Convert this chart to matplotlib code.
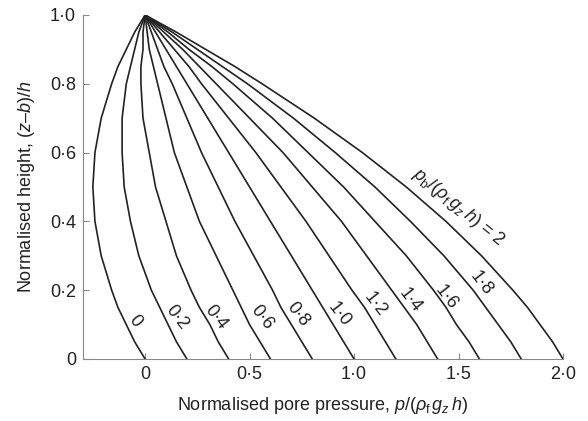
import matplotlib
matplotlib.use('Agg')
import matplotlib.pyplot as plt
from matplotlib.ticker import FuncFormatter

plt.rcParams['font.family'] = ['Liberation Sans', 'DejaVu Sans']
plt.rcParams['mathtext.fontset'] = 'custom'
plt.rcParams['mathtext.rm'] = 'Liberation Sans'
plt.rcParams['mathtext.it'] = 'Liberation Sans:italic'

# normalised height levels where the curves were read
height = [0, 0.05, 0.1, 0.15, 0.2, 0.3, 0.4, 0.5, 0.6, 0.7, 0.8, 0.85, 0.9, 0.95, 1.0]

# normalised pore pressure for each base pressure pb
p_00 = [0.00, -0.05, -0.09, -0.13, -0.16, -0.21, -0.24, -0.25, -0.24, -0.21, -0.16, -0.13, -0.09, -0.05, 0]
p_02 = [0.20, 0.15, 0.11, 0.07, 0.03, -0.03, -0.07, -0.10, -0.11, -0.11, -0.09, -0.07, -0.05, -0.03, 0]
p_04 = [0.40, 0.35, 0.31, 0.26, 0.22, 0.15, 0.10, 0.05, 0.02, -0.01, -0.02, -0.02, -0.01, -0.01, 0]
p_06 = [0.60, 0.55, 0.50, 0.46, 0.42, 0.34, 0.26, 0.20, 0.14, 0.10, 0.06, 0.04, 0.02, 0.01, 0]
p_08 = [0.80, 0.75, 0.70, 0.65, 0.61, 0.52, 0.43, 0.35, 0.27, 0.20, 0.13, 0.09, 0.06, 0.03, 0]
p_10 = [1.00, 0.95, 0.90, 0.85, 0.80, 0.70, 0.60, 0.50, 0.40, 0.30, 0.20, 0.15, 0.10, 0.05, 0]
p_12 = [1.20, 1.15, 1.10, 1.05, 0.99, 0.88, 0.77, 0.65, 0.53, 0.40, 0.27, 0.21, 0.14, 0.07, 0]
p_14 = [1.40, 1.35, 1.30, 1.24, 1.18, 1.06, 0.94, 0.80, 0.66, 0.50, 0.34, 0.26, 0.18, 0.09, 0]
p_16 = [1.60, 1.55, 1.49, 1.44, 1.38, 1.25, 1.10, 0.95, 0.78, 0.61, 0.42, 0.32, 0.21, 0.11, 0]
p_18 = [1.80, 1.75, 1.69, 1.63, 1.57, 1.43, 1.27, 1.10, 0.91, 0.71, 0.49, 0.37, 0.25, 0.13, 0]
p_20 = [2.00, 1.95, 1.89, 1.83, 1.76, 1.61, 1.44, 1.25, 1.04, 0.81, 0.56, 0.43, 0.29, 0.15, 0]

curves = [p_00, p_02, p_04, p_06, p_08, p_10, p_12, p_14, p_16, p_18, p_20]
curve_labels = ['0', '0·2', '0·4', '0·6', '0·8', '1·0', '1·2', '1·4', '1·6', '1·8']
label_x = [-0.05, 0.15, 0.34, 0.56, 0.73, 0.93, 1.10, 1.27, 1.44, 1.61]
label_y = [0.11, 0.12, 0.12, 0.12, 0.13, 0.13, 0.16, 0.17, 0.18, 0.22]

fig = plt.figure(figsize=(5.88, 4.21), dpi=100)
ax = fig.add_axes([0.1412, 0.1473, 0.8163, 0.8171])

for p in curves:
    ax.plot(p, height, color='#222222', lw=1.2)

for txt, x, y in zip(curve_labels, label_x, label_y):
    ax.text(x, y, txt, rotation=-52, ha='center', va='center', fontsize=13,
            rotation_mode='anchor', color='#222222')
ax.text(1.50, 0.44, r'$p_\mathrm{b}/(\rho_\mathrm{f}\,g_z\,h)$ = 2', rotation=-39,
        ha='center', va='center', fontsize=13, rotation_mode='anchor', color='#222222')

ax.set_xlim(-0.297, 2.0)
ax.set_ylim(0, 1.0)
ax.set_xticks([0, 0.5, 1.0, 1.5, 2.0])
ax.set_yticks([0, 0.2, 0.4, 0.6, 0.8, 1.0])

fmt = FuncFormatter(lambda v, pos: '0' if v == 0 else ('%.1f' % v).replace('.', '·'))
ax.xaxis.set_major_formatter(fmt)
ax.yaxis.set_major_formatter(fmt)
ax.tick_params(direction='in', length=4, width=0.8, color='#888888', labelsize=13,
               labelcolor='#222222')
ax.tick_params(axis='x', pad=5)
ax.tick_params(axis='y', pad=5)

for s in ['top', 'right']:
    ax.spines[s].set_visible(False)
for s in ['left', 'bottom']:
    ax.spines[s].set_color('#888888')
    ax.spines[s].set_linewidth(0.8)

ax.set_xlabel(r'Normalised pore pressure, $p/(\rho_\mathrm{f}\,g_z\,h)$', fontsize=13,
              color='#222222', labelpad=9)
ax.set_ylabel(r'Normalised height, ($z$–$b$)/$h$', fontsize=13, color='#222222',
              labelpad=9)

fig.savefig('out.png', dpi=100)
